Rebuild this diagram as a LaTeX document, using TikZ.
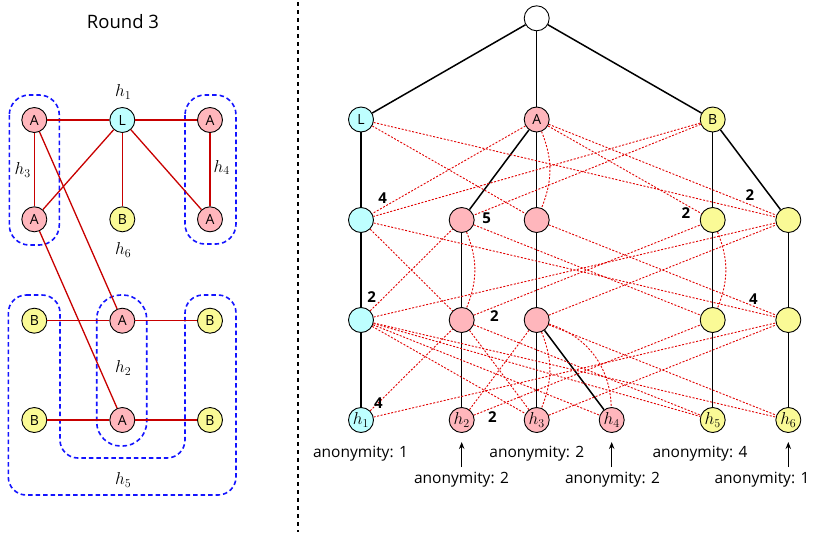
\documentclass[tikz,border=0pt]{standalone}
\usepackage{fontspec}
\setsansfont{Open Sans}
\renewcommand{\familydefault}{\sfdefault}
\usetikzlibrary{arrows.meta}
\definecolor{cyfill}{RGB}{190,255,255}
\definecolor{pkfill}{RGB}{255,182,188}
\definecolor{ylfill}{RGB}{250,250,150}
\definecolor{gred}{RGB}{200,0,0}
\definecolor{dred}{RGB}{225,0,0}
\definecolor{hblue}{RGB}{20,20,255}
\begin{document}
\begin{tikzpicture}[x=1pt,y=-1pt,
  vtx/.style={circle,draw=black,line width=0.9pt,minimum size=25pt,inner sep=0pt,font=\fontsize{14}{14}\selectfont},
  cy/.style={vtx,fill=cyfill},
  pk/.style={vtx,fill=pkfill},
  yl/.style={vtx,fill=ylfill},
  wh/.style={vtx,fill=white},
  leaf/.style={font=\fontsize{17}{17}\selectfont},
  gedge/.style={draw=gred,line width=1.3pt},
  hyper/.style={draw=hblue,line width=1.6pt,dash pattern=on 4.5pt off 3pt},
  hlab/.style={font=\fontsize{18}{18}\selectfont},
  tedge/.style={draw=black,line width=1.5pt},
  rd/.style={draw=dred,line width=0.9pt,dash pattern=on 2pt off 1.6pt},
  wl/.style={font=\fontsize{15}{15}\selectfont\bfseries},
  anon/.style={font=\fontsize{15.5}{15.5}\selectfont,inner sep=1pt}
]
\useasboundingbox (0,0) rectangle (813,533);

% ---------- left part ----------
\node[font=\fontsize{18.5}{18.5}\selectfont] (title) at (123,22) {Round 3};

% hyperedges
\draw[hyper,rounded corners=20pt] (9.3,95) rectangle (59.3,245);
\draw[hyper,rounded corners=20pt] (185,95) rectangle (236,244);
\draw[hyper,rounded corners=24pt] (96.7,295) rectangle (146.7,446);
\draw[hyper,rounded corners=18pt] (8.3,295) -- (60,295) -- (60,458) -- (185,458) -- (185,295) -- (236,295) -- (236,495) -- (8.3,495) -- cycle;

\node[pk] (a3t) at (34.3,120) {A};
\node[pk] (a3b) at (34.3,219.3) {A};
\node[cy] (gl) at (122.3,120) {L};
\node[yl] (b6) at (122.3,219.3) {B};
\node[pk] (a4t) at (210,120) {A};
\node[pk] (a4b) at (210,219.3) {A};
\node[yl] (b5tl) at (34.3,320.7) {B};
\node[pk] (a2t) at (122.3,320.7) {A};
\node[yl] (b5tr) at (210,320.7) {B};
\node[yl] (b5bl) at (34.3,420) {B};
\node[pk] (a2b) at (122.3,420) {A};
\node[yl] (b5br) at (210,420) {B};

\draw[gedge] (gl) -- (a3t);
\draw[gedge] (gl) -- (a4t);
\draw[gedge] (gl) -- (a3b);
\draw[gedge] (gl) -- (a4b);
\draw[gedge] (gl) -- (b6);
\draw[gedge] (a3t) -- (a3b);
\draw[gedge] (a4t) -- (a4b);
\draw[gedge] (a3t) -- (a2t);
\draw[gedge] (a3b) -- (a2b);
\draw[gedge] (b5tl) -- (a2t);
\draw[gedge] (a2t) -- (b5tr);
\draw[gedge] (b5bl) -- (a2b);
\draw[gedge] (a2b) -- (b5br);

\node[hlab] (lh1) at (123.3,92) {$h_1$};
\node[hlab] (lh3) at (22.7,170) {$h_3$};
\node[hlab] (lh4) at (221.7,167.5) {$h_4$};
\node[hlab] (lh6) at (123.3,250) {$h_6$};
\node[hlab] (lh2) at (123.3,368) {$h_2$};
\node[hlab] (lh5) at (123.3,480) {$h_5$};

% separator
\coordinate (sepT) at (298,2);
\coordinate (sepB) at (298,532);
\draw[line width=1.3pt,dash pattern=on 4pt off 4pt] (sepT) -- (sepB);

% ---------- right part ----------
\node[wh] (r) at (536.7,18.3) {};
\node[cy] (tL) at (361,119.5) {L};
\node[pk] (tA) at (536.7,119.5) {A};
\node[yl] (tB) at (712.7,119.5) {B};

\node[cy] (l2L) at (361,220) {};
\node[pk] (l2Aa) at (461.7,220) {};
\node[pk] (l2Ab) at (536.7,220) {};
\node[yl] (l2Ba) at (712.7,220) {};
\node[yl] (l2Bb) at (788.3,220) {};

\node[cy] (l3L) at (361,320) {};
\node[pk] (l3Aa) at (461.7,320) {};
\node[pk] (l3Ab) at (536.7,320) {};
\node[yl] (l3Ba) at (712.7,320) {};
\node[yl] (l3Bb) at (788.3,320) {};

\node[cy,leaf] (h1) at (361,420) {$h_1$};
\node[pk,leaf] (h2) at (461.7,420) {$h_2$};
\node[pk,leaf] (h3) at (536.7,420) {$h_3$};
\node[pk,leaf] (h4) at (611.7,420) {$h_4$};
\node[yl,leaf] (h5) at (712.7,420) {$h_5$};
\node[yl,leaf] (h6) at (788.3,420) {$h_6$};

% tree edges
\draw[tedge] (r) -- (tL);
\draw[tedge] (r) -- (tA);
\draw[tedge] (r) -- (tB);
\draw[tedge] (tL) -- (l2L);
\draw[tedge] (tA) -- (l2Aa);
\draw[tedge] (tA) -- (l2Ab);
\draw[tedge] (tB) -- (l2Ba);
\draw[tedge] (tB) -- (l2Bb);
\draw[tedge] (l2L) -- (l3L);
\draw[tedge] (l2Aa) -- (l3Aa);
\draw[tedge] (l2Ab) -- (l3Ab);
\draw[tedge] (l2Ba) -- (l3Ba);
\draw[tedge] (l2Bb) -- (l3Bb);
\draw[tedge] (l3L) -- (h1);
\draw[tedge] (l3Aa) -- (h2);
\draw[tedge] (l3Ab) -- (h3);
\draw[tedge] (l3Ab) -- (h4);
\draw[tedge] (l3Ba) -- (h5);
\draw[tedge] (l3Bb) -- (h6);

% dashed: band 1-2
\draw[rd] (tL) -- (l2Ab);
\draw[rd] (tL) -- (l2Bb);
\draw[rd] (tA) -- (l2L);
\draw[rd] (tA) to[bend left=22] (l2Ab);
\draw[rd] (tA) -- (l2Ba);
\draw[rd] (tA) -- (l2Bb);
\draw[rd] (tB) -- (l2L);
\draw[rd] (tB) -- (l2Aa);
% band 2-3
\draw[rd] (l2L) -- (l3Aa);
\draw[rd] (l3L) -- (l2Aa);
\draw[rd] (l2L) -- (l3Bb);
\draw[rd] (l3L) -- (l2Bb);
\draw[rd] (l2Aa) -- (l3Ba);
\draw[rd] (l3Aa) -- (l2Ba);
\draw[rd] (l2Ab) -- (l3Bb);
\draw[rd] (l3Ab) -- (l2Bb);
\draw[rd] (l2Aa) to[bend left=22] (l3Aa);
\draw[rd] (l2Ba) to[bend left=22] (l3Ba);
% band 3-4
\draw[rd] (l3L) -- (h3);
\draw[rd] (l3L) -- (h4);
\draw[rd] (l3L) -- (h5);
\draw[rd] (l3L) -- (h6);
\draw[rd] (h1) -- (l3Aa);
\draw[rd] (h1) -- (l3Bb);
\draw[rd] (l3Aa) -- (h3);
\draw[rd] (l3Aa) -- (h5);
\draw[rd] (h2) -- (l3Ab);
\draw[rd] (h2) -- (l3Ba);
\draw[rd] (l3Ab) to[bend left=22] (h3);
\draw[rd] (l3Ab) to[bend left=35] (h4);
\draw[rd] (l3Ab) -- (h6);
\draw[rd] (h3) -- (l3Bb);

% weights
\node[wl] (w1) at (382.7,198.3) {4};
\node[wl] (w2) at (486.7,218.3) {5};
\node[wl] (w3) at (686,213.3) {2};
\node[wl] (w4) at (750,195) {2};
\node[wl] (w5) at (371.7,296.7) {2};
\node[wl] (w6) at (494.3,316) {2};
\node[wl] (w7) at (753.3,299.3) {4};
\node[wl] (w8) at (378.3,402.7) {4};
\node[wl] (w9) at (492.3,417.3) {2};

% anonymity
\node[anon] (an1) at (360.5,453.3) {anonymity: 1};
\node[anon] (an3) at (536.8,453.3) {anonymity: 2};
\node[anon] (an5) at (700,453.3) {anonymity: 4};
\node[anon] (an2) at (461.5,479.3) {anonymity: 2};
\node[anon] (an4) at (612.5,479.3) {anonymity: 2};
\node[anon] (an6) at (762,479.3) {anonymity: 1};

\coordinate (t2) at (461.7,442);
\coordinate (t4) at (611.7,442);
\coordinate (t6) at (788.3,442);
\coordinate (s2) at (461.7,467);
\coordinate (s4) at (611.7,467);
\coordinate (s6) at (788.3,467);
\draw[line width=1.1pt,-{Stealth[length=7pt,width=5.5pt]}] (s2) -- (t2);
\draw[line width=1.1pt,-{Stealth[length=7pt,width=5.5pt]}] (s4) -- (t4);
\draw[line width=1.1pt,-{Stealth[length=7pt,width=5.5pt]}] (s6) -- (t6);
\end{tikzpicture}
\end{document}
